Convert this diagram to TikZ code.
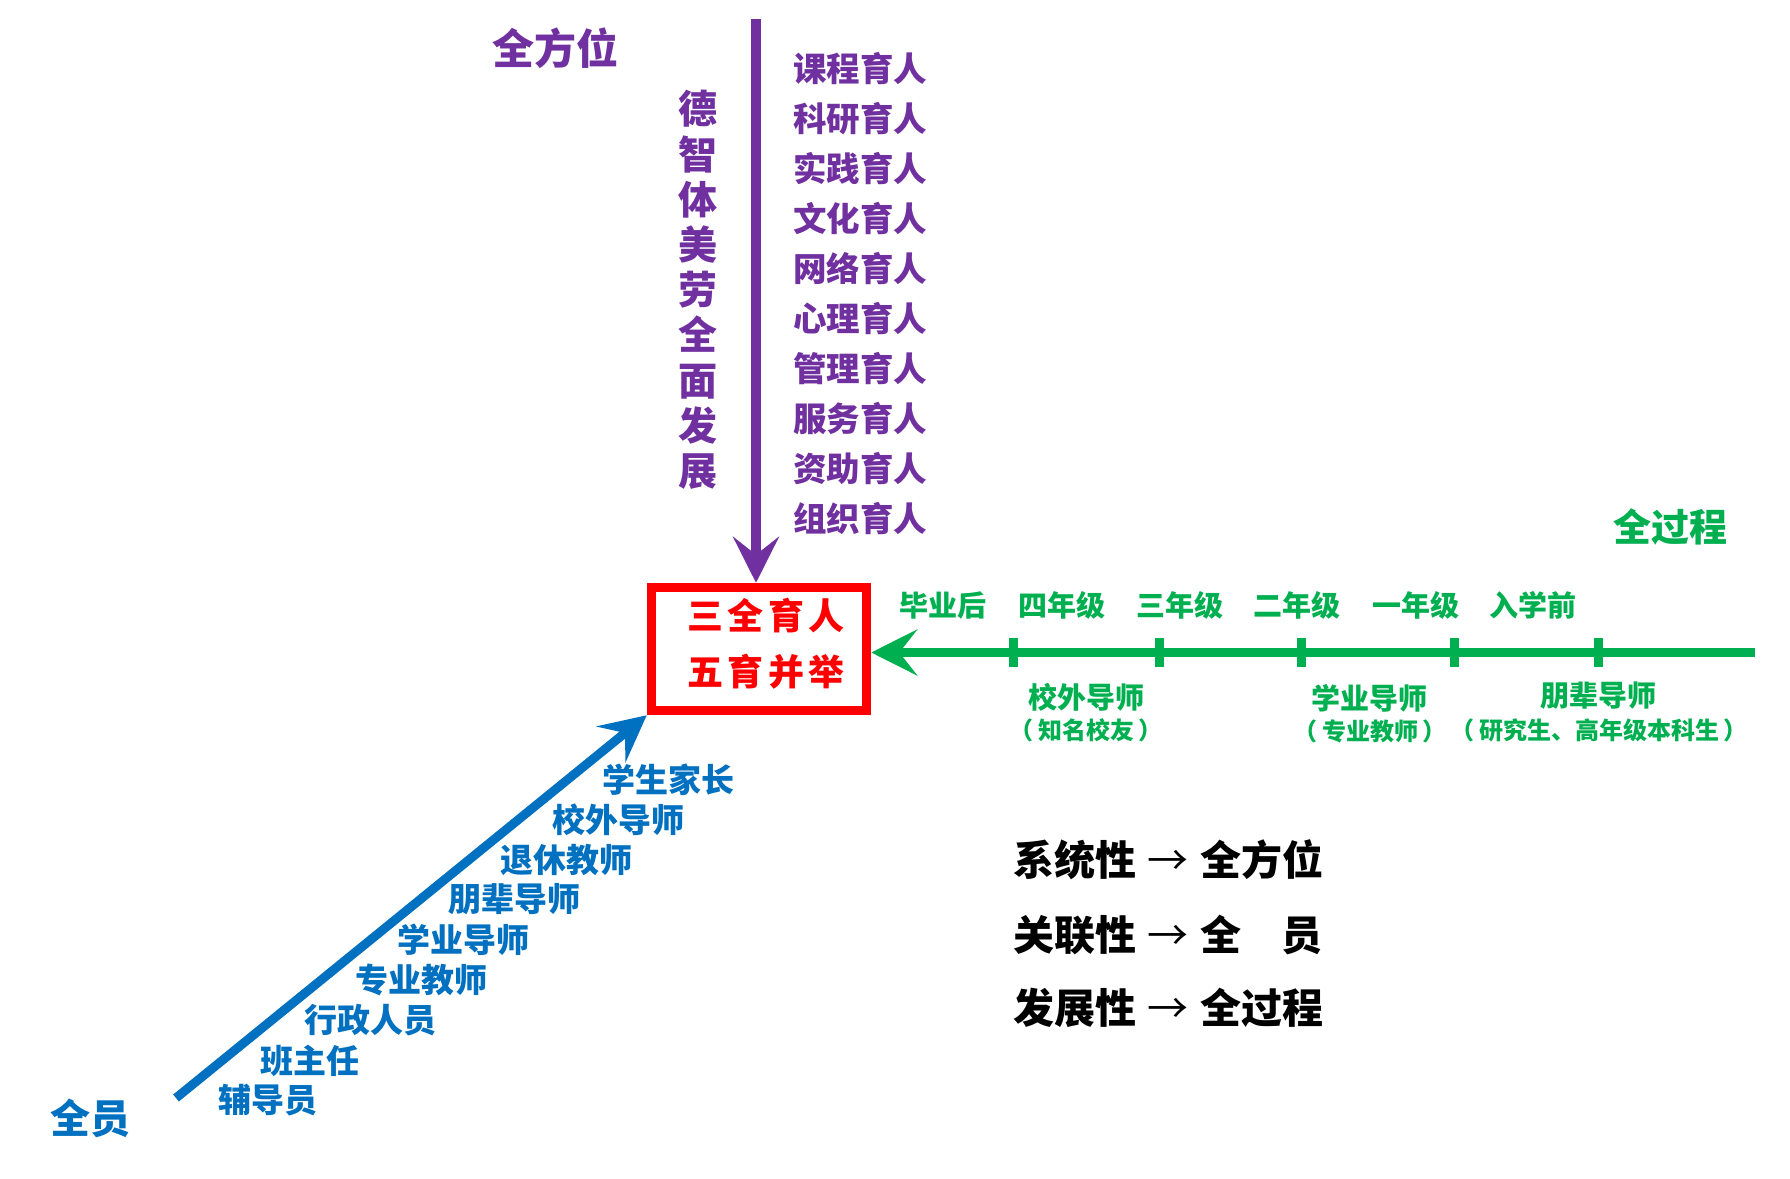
\documentclass[tikz,border=0pt]{standalone}
\usepackage{fontspec}
\setmainfont{Noto Sans CJK SC}
\usetikzlibrary{arrows.meta}
\definecolor{pur}{HTML}{7030A0}
\definecolor{grn}{HTML}{00B050}
\definecolor{blu}{HTML}{0070C0}
\newcommand\fsz[1]{\fontsize{#1}{#1}\selectfont\bfseries}
\newcommand\rsp{\hspace{2.25pt}}
\newcommand\thinarrow{\hspace{5.5pt}{\mdseries →}\hspace{6pt}}
\begin{document}
\begin{tikzpicture}[x=0.5pt,y=-0.5pt,
  txt/.style={inner sep=0pt, outer sep=0pt},
  plist/.style={txt, anchor=west, text=pur, font=\fsz{16.75pt}},
  ptitle/.style={txt, text=pur, font=\fsz{21pt}},
  pvert/.style={txt, text=pur, align=center, font=\fontsize{19.5pt}{22.6pt}\selectfont\bfseries},
  gtop/.style={txt, text=grn, font=\fsz{14.5pt}},
  gmain/.style={txt, text=grn, font=\fsz{14.5pt}},
  gsub/.style={txt, text=grn, font=\fsz{12pt}},
  gtitle/.style={txt, text=grn, font=\fsz{19pt}},
  blist/.style={txt, anchor=west, text=blu, font=\fsz{16.5pt}},
  btitle/.style={txt, text=blu, font=\fsz{20pt}},
  redtxt/.style={txt, text=red, font=\fsz{18pt}},
  blk/.style={txt, anchor=west, text=black, font=\fsz{20.5pt}},
  headtip/.style={-{Stealth[length=23pt,width=23pt,inset=9pt]}},
  parrow/.style={headtip, draw=pur, fill=pur, line width=4.7pt},
  garrow/.style={headtip, draw=grn, fill=grn, line width=4.5pt},
  barrow/.style={headtip, draw=blu, fill=blu, line width=4.5pt},
  tick/.style={draw=grn, line width=4.5pt}
]
\fill[white] (0,0) rectangle (1790,1179);
\useasboundingbox (0,0) rectangle (1790,1179);

% central box
\node[draw=red, line width=4.75pt, minimum width=107.5pt, minimum height=61.5pt, inner sep=0pt, fill=white] (box) at (759,649) {};
\node[redtxt] (r1) at (766,616) {三\rsp 全\rsp 育\rsp 人};
\node[redtxt] (r2) at (766,672) {五\rsp 育\rsp 并\rsp 举};

% purple (all-round)
\node[ptitle] (qfw) at (555,48) {全方位};
\node[pvert] (dev) at (698,290) {德\\智\\体\\美\\劳\\全\\面\\发\\展};
\foreach \t [count=\i] in {课程育人,科研育人,实践育人,文化育人,网络育人,心理育人,管理育人,服务育人,资助育人,组织育人}
  \node[plist] (p\i) at (793,{68.75+50*(\i-1)}) {\t};
\coordinate (ptop) at (756,19);
\draw[parrow] (ptop) -- (ptop |- box.north);

% green (whole process)
\node[gtitle] (qgc) at (1670,527) {全过程};
\coordinate (gend) at (1755,652.5);
\draw[garrow] (gend) -- (gend -| box.east);
\foreach \x [count=\i] in {1013,1159,1301,1454,1598} {
  \coordinate (tt\i) at (\x,638);
  \coordinate (tb\i) at (\x,667);
  \draw[tick] (tt\i) -- (tb\i);
}
\node[gtop] (g1) at (943,605) {毕业后};
\node[gtop] (g2) at (1062,605) {四年级};
\node[gtop] (g3) at (1180,605) {三年级};
\node[gtop] (g4) at (1297,605) {二年级};
\node[gtop] (g5) at (1416,605) {一年级};
\node[gtop] (g6) at (1533,605) {入学前};
\node[gmain] (m1) at (1086,697) {校外导师};
\node[gsub] (s1) at (1086,730) {（\hspace{2.5pt}知名校友\hspace{2.5pt}）};
\node[gmain] (m2) at (1369,698) {学业导师};
\node[gsub] (s2) at (1370,731) {（\hspace{2.5pt}专业教师\hspace{2.5pt}）};
\node[gmain] (m3) at (1598,696) {朋辈导师};
\node[gsub] (s3) at (1599,730) {（\hspace{2.5pt}研究生、高年级本科生\hspace{2.5pt}）};

% blue (all staff)
\node[btitle] (qy) at (90,1118) {全员};
\coordinate (bstart) at (176,1098);
\draw[barrow] (bstart) -- (box.south west);
\node[blist] (b1) at (602,780) {学生家长};
\node[blist] (b2) at (552,820) {校外导师};
\node[blist] (b3) at (500,860) {退休教师};
\node[blist] (b4) at (448,899) {朋辈导师};
\node[blist] (b5) at (397,940) {学业导师};
\node[blist] (b6) at (355,980) {专业教师};
\node[blist] (b7) at (304,1020) {行政人员};
\node[blist] (b8) at (260,1061) {班主任};
\node[blist] (b9) at (218,1100) {辅导员};

% black summary
\node[blk] (k1) at (1013,860) {系统性\thinarrow 全方位};
\node[blk] (k2) at (1013,935) {关联性\thinarrow 全\hspace{1em}员};
\node[blk] (k3) at (1013,1008) {发展性\thinarrow 全过程};
\end{tikzpicture}
\end{document}
